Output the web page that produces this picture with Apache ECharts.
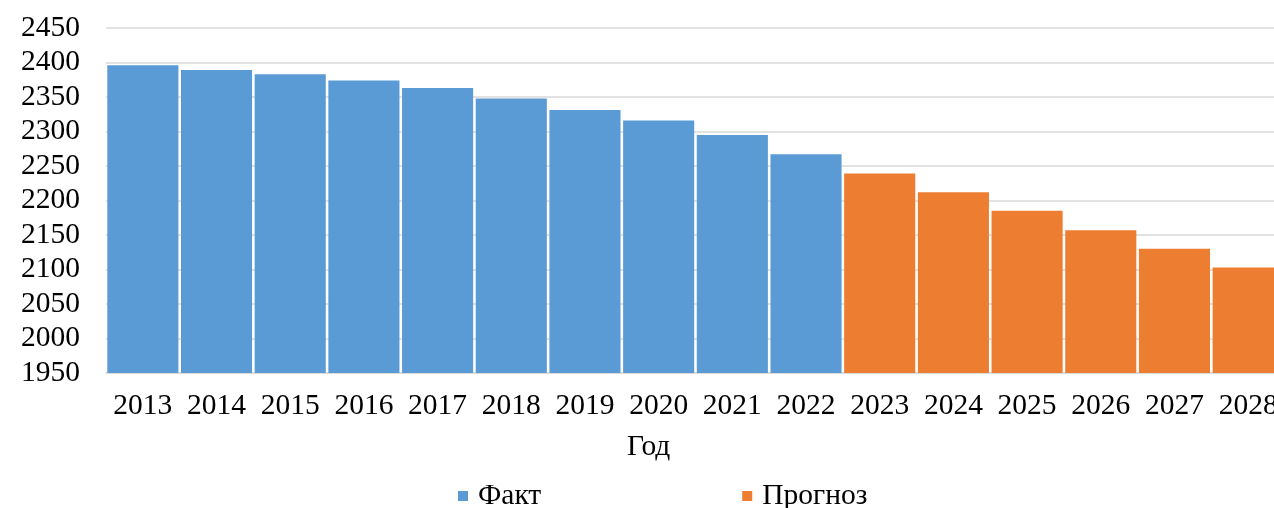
<!DOCTYPE html>
<html><head><meta charset="utf-8">
<script src="https://cdn.jsdelivr.net/npm/echarts@6/dist/echarts.min.js"></script>
<style>html,body{margin:0;padding:0;background:#fff}#c{width:1274px;height:508px}</style>
</head><body><div id="c"></div>
<script>
var years = ['2013','2014','2015','2016','2017','2018','2019','2020','2021','2022','2023','2024','2025','2026','2027','2028'];
var factValues = [2396, 2389, 2383, 2374, 2363, 2348, 2331, 2316, 2295, 2267];
var forecastValues = [2239, 2212, 2185, 2157, 2130, 2103];
var seriesNames = ['Факт', 'Прогноз'];
var axisName = 'Год';

var factData = years.map(function (y, i) { return i < factValues.length ? factValues[i] : '-'; });
var forecastData = years.map(function (y, i) { return i >= factValues.length ? forecastValues[i - factValues.length] : '-'; });

var font = 'Liberation Serif';
var fs = 29.5;
var chart = echarts.init(document.getElementById('c'), null, {renderer: 'canvas'});
chart.setOption({
  animation: false,
  backgroundColor: '#fff',
  grid: {left: 106, top: 28, width: 1179, bottom: 135, containLabel: false, outerBoundsMode: 'none'},
  title: {text: axisName, left: 627, top: 432, padding: 0, textStyle: {fontFamily: font, fontSize: fs, fontWeight: 'normal', color: '#000'}},
  legend: {
    left: 458, top: 481, padding: 0, itemWidth: 10, itemHeight: 10, itemGap: 201, icon: 'rect',
    data: seriesNames,
    textStyle: {fontFamily: font, fontSize: fs, color: '#000', padding: [0, 0, 0, 5]}
  },
  xAxis: {
    type: 'category', data: years,
    axisLine: {lineStyle: {color: '#d9d9d9', width: 1.5}},
    axisTick: {show: false},
    axisLabel: {fontFamily: font, fontSize: fs, color: '#000', margin: 18, interval: 0}
  },
  yAxis: {
    type: 'value', min: 1950, max: 2450, interval: 50,
    axisLine: {show: false}, axisTick: {show: false},
    splitLine: {lineStyle: {color: '#d9d9d9', width: 1.5}},
    axisLabel: {fontFamily: font, fontSize: fs, color: '#000', margin: 26, formatter: function (v) { return String(v); }}
  },
  series: [
    {name: seriesNames[0], type: 'bar', stack: 's', data: factData, barCategoryGap: '3.5%', itemStyle: {color: '#5B9BD5'}},
    {name: seriesNames[1], type: 'bar', stack: 's', data: forecastData, barCategoryGap: '3.5%', itemStyle: {color: '#ED7D31'}}
  ]
});
</script></body></html>
